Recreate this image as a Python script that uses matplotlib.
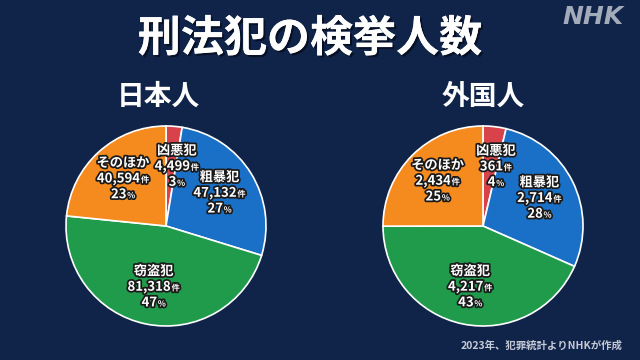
import matplotlib
matplotlib.use("Agg")
import matplotlib.pyplot as plt
import matplotlib.patheffects as pe
import numpy as np
from matplotlib.offsetbox import TextArea, HPacker, VPacker, AnnotationBbox

plt.rcParams['font.family'] = ['Noto Sans CJK JP', 'DejaVu Sans']

# data
categories = ["凶悪犯", "粗暴犯", "窃盗犯", "そのほか"]
japanese = [4499, 47132, 81318, 40594]
japanese_pct = [3, 27, 47, 23]
foreign = [361, 2714, 4217, 2434]
foreign_pct = [4, 28, 43, 25]
colors = ["#d8434b", "#1a70c6", "#1f9b4b", "#f58a1f"]

bg = "#10244a"
fig = plt.figure(figsize=(6.4, 3.6), dpi=100, facecolor=bg)

outline = [pe.withStroke(linewidth=2.5, foreground="#1a1a1a")]

fig.text(0.484, 0.893, "刑法犯の検挙人数", color="white", fontsize=31,
         fontweight="bold", ha="center", va="center",
         path_effects=[pe.withSimplePatchShadow(offset=(1.5, -1.5), shadow_rgbFace="#050c1c", alpha=0.8), pe.Normal()])
fig.text(0.927, 0.953, "NHK", color="#a3abbb", fontsize=18, fontweight="bold",
         fontstyle="italic", family="DejaVu Sans", ha="center", va="center")
fig.text(0.973, 0.04, "2023年、犯罪統計よりNHKが作成", color="#c5cad6",
         fontsize=7.5, fontweight="bold", ha="right", va="center")

# radial position of each label (fraction of radius)
label_dist = [0.6, 0.63, 0.62, 0.64]


def draw_pie(cx, title, title_x, values, pcts):
    r = 102
    cy = 226
    ax = fig.add_axes([(cx - r) / 640, (360 - cy - r) / 360, 2 * r / 640, 2 * r / 360])
    ax.set_facecolor(bg)
    wedges, _ = ax.pie(values, colors=colors, startangle=90, counterclock=False,
                       wedgeprops=dict(edgecolor="white", linewidth=1.2))
    ax.set_xlim(-1.02, 1.02)
    ax.set_ylim(-1.02, 1.02)
    ax.set_aspect("equal")
    ax.axis("off")
    fig.text(title_x / 640, 1 - 97 / 360, title, color="white", fontsize=20,
             fontweight="bold", ha="center", va="center")
    for w, name, v, p, d in zip(wedges, categories, values, pcts, label_dist):
        ang = np.deg2rad((w.theta1 + w.theta2) / 2)
        x, y = d * np.cos(ang), d * np.sin(ang)
        if name == "凶悪犯":
            x += 0.06
        big = dict(color="white", fontsize=9.5, fontweight="bold", path_effects=outline)
        small = dict(color="white", fontsize=6, fontweight="bold", path_effects=outline)
        line1 = TextArea(name, textprops=big)
        line2 = HPacker(children=[TextArea(f"{v:,}", textprops=big),
                                  TextArea("件", textprops=small)],
                        align="baseline", pad=0, sep=0.5)
        line3 = HPacker(children=[TextArea(f"{p}", textprops=big),
                                  TextArea("%", textprops=small)],
                        align="baseline", pad=0, sep=0.5)
        box = VPacker(children=[line1, line2, line3], align="center", pad=0, sep=1.2)
        ab = AnnotationBbox(box, (x, y), frameon=False, box_alignment=(0.5, 0.5))
        ax.add_artist(ab)


draw_pie(166, "日本人", 158, japanese, japanese_pct)
draw_pie(483, "外国人", 483, foreign, foreign_pct)

fig.savefig("out.png", dpi=100, facecolor=bg)
